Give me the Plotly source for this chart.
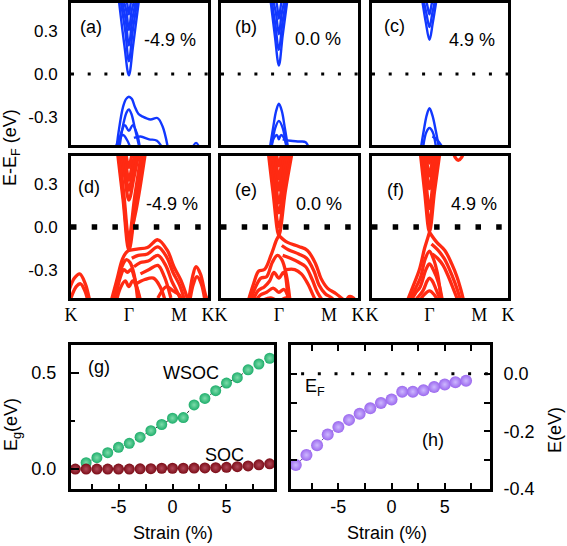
import plotly.graph_objects as go

W, H = 567, 546

# ---------------- data ----------------
K_PATH = [0.0, 1.333, 2.488, 3.155]
K_LABELS = ["K", "Γ", "M", "K"]
E_TICKS = [-0.3, 0.0, 0.3]
E_TICK_LABELS = ["-0.3", "0.0", "0.3"]
FERMI_K = [0.0, 3.155]
FERMI_E = [0.0, 0.0]

# (a) -4.9 %, without SOC
A_BANDS = [
    ([1.08, 1.23, 1.333, 1.43, 1.59], [0.58, 0.2, -0.01, 0.2, 0.58]),
    ([1.11, 1.25, 1.333, 1.42, 1.56], [0.58, 0.3, 0.09, 0.3, 0.58]),
    ([1.13, 1.26, 1.333, 1.41, 1.54], [0.58, 0.38, 0.2, 0.38, 0.58]),
    ([1.15, 1.27, 1.333, 1.40, 1.52], [0.58, 0.45, 0.31, 0.45, 0.58]),
    ([1.17, 1.28, 1.333, 1.39, 1.50], [0.6, 0.52, 0.42, 0.52, 0.6]),
    ([1.02, 1.1, 1.2, 1.27, 1.333, 1.4, 1.47, 1.55, 1.65, 1.83, 1.99, 2.11, 2.25],
     [-0.6, -0.4, -0.23, -0.175, -0.16, -0.175, -0.23, -0.28, -0.3, -0.32, -0.31, -0.37, -0.55]),
    ([1.1, 1.2, 1.28, 1.333, 1.39, 1.47, 1.6], [-0.55, -0.36, -0.27, -0.25, -0.28, -0.38, -0.55]),
    ([1.05, 1.15, 1.24, 1.333, 1.42, 1.52, 1.6], [-0.55, -0.42, -0.36, -0.40, -0.36, -0.42, -0.55]),
    ([1.45, 1.6, 1.8, 1.98, 2.15], [-0.45, -0.44, -0.46, -0.47, -0.55]),
    ([1.0, 1.12, 1.2, 1.3, 1.4], [-0.55, -0.45, -0.43, -0.47, -0.55]),
    ([2.75, 2.88, 3.0], [-0.55, -0.485, -0.55]),
]
# (b) 0.0 %, without SOC
B_BANDS = [
    ([1.12, 1.24, 1.333, 1.42, 1.55], [0.57, 0.27, 0.06, 0.27, 0.57]),
    ([1.14, 1.25, 1.333, 1.41, 1.53], [0.57, 0.35, 0.17, 0.35, 0.57]),
    ([1.16, 1.265, 1.333, 1.40, 1.51], [0.57, 0.43, 0.28, 0.43, 0.57]),
    ([1.18, 1.28, 1.333, 1.39, 1.49], [0.58, 0.5, 0.39, 0.5, 0.58]),
    ([1.11, 1.2, 1.27, 1.333, 1.40, 1.47, 1.56], [-0.55, -0.38, -0.26, -0.21, -0.26, -0.38, -0.55]),
    ([1.15, 1.25, 1.333, 1.42, 1.52], [-0.55, -0.38, -0.33, -0.38, -0.55]),
    ([1.12, 1.22, 1.29, 1.333, 1.38, 1.45, 1.55], [-0.55, -0.45, -0.43, -0.46, -0.43, -0.45, -0.55]),
    ([1.42, 1.6, 1.8, 1.95, 2.05], [-0.46, -0.47, -0.475, -0.48, -0.55]),
]
# (c) 4.9 %, without SOC
C_BANDS = [
    ([1.14, 1.25, 1.333, 1.41, 1.52], [0.57, 0.36, 0.24, 0.36, 0.57]),
    ([1.16, 1.26, 1.333, 1.40, 1.50], [0.57, 0.43, 0.33, 0.43, 0.57]),
    ([1.18, 1.27, 1.333, 1.39, 1.49], [0.58, 0.5, 0.42, 0.5, 0.58]),
    ([1.12, 1.2, 1.27, 1.333, 1.40, 1.48, 1.57], [-0.55, -0.4, -0.29, -0.24, -0.29, -0.4, -0.55]),
    ([1.17, 1.26, 1.333, 1.41, 1.5], [-0.55, -0.41, -0.38, -0.41, -0.55]),
    ([1.4, 1.5, 1.6, 1.7], [-0.44, -0.46, -0.5, -0.56]),
]
# (d) -4.9 %, with SOC
D_BANDS = [
    ([1.05, 1.2, 1.333, 1.5, 1.71], [0.58, 0.19, -0.165, 0.19, 0.58]),
    ([1.07, 1.21, 1.333, 1.49, 1.68], [0.58, 0.2, -0.13, 0.2, 0.58]),
    ([1.09, 1.22, 1.333, 1.47, 1.65], [0.58, 0.22, -0.08, 0.22, 0.58]),
    ([1.12, 1.24, 1.333, 1.45, 1.6], [0.58, 0.35, 0.19, 0.35, 0.58]),
    ([1.14, 1.25, 1.333, 1.43, 1.58], [0.58, 0.4, 0.26, 0.4, 0.58]),
    ([1.16, 1.26, 1.333, 1.42, 1.56], [0.58, 0.45, 0.33, 0.45, 0.58]),
    ([1.18, 1.27, 1.333, 1.40, 1.54], [0.6, 0.5, 0.42, 0.5, 0.6]),
    ([1.333, 1.5, 1.74], [-0.1, 0.12, 0.58]),
    ([1.333, 1.52, 1.76, 2.0, 2.22, 2.37, 2.53, 2.7], [-0.165, -0.155, -0.145, -0.09, -0.165, -0.28, -0.375, -0.52]),
    ([1.4, 1.55, 1.76, 2.0, 2.2, 2.35, 2.5, 2.65], [-0.22, -0.2, -0.19, -0.14, -0.21, -0.32, -0.41, -0.55]),
    ([1.45, 1.6, 1.78, 2.0, 2.18, 2.32, 2.45, 2.6], [-0.28, -0.25, -0.24, -0.2, -0.27, -0.38, -0.46, -0.56]),
    ([0.9, 1.05, 1.18, 1.27, 1.333], [-0.55, -0.38, -0.23, -0.18, -0.165]),
    ([0.95, 1.1, 1.2, 1.28, 1.36, 1.45, 1.55], [-0.55, -0.35, -0.26, -0.23, -0.25, -0.33, -0.55]),
    ([1.0, 1.12, 1.22, 1.3, 1.38, 1.48, 1.6], [-0.55, -0.37, -0.3, -0.32, -0.3, -0.38, -0.55]),
    ([1.02, 1.15, 1.25, 1.333, 1.42, 1.52, 1.62], [-0.55, -0.42, -0.38, -0.42, -0.38, -0.43, -0.55]),
    ([1.6, 1.8, 2.0, 2.15, 2.3], [-0.33, -0.3, -0.27, -0.35, -0.5]),
    ([1.5, 1.7, 1.9, 2.05, 2.2], [-0.4, -0.37, -0.36, -0.42, -0.55]),
    ([-0.05, 0.08, 0.2, 0.33, 0.45], [-0.45, -0.36, -0.33, -0.4, -0.55]),
    ([0.0, 0.12, 0.22, 0.32, 0.42], [-0.5, -0.42, -0.4, -0.45, -0.56]),
    ([2.7, 2.8, 2.88, 2.98, 3.1, 3.2], [-0.55, -0.35, -0.28, -0.33, -0.48, -0.55]),
    ([2.72, 2.82, 2.9, 3.0, 3.1], [-0.55, -0.4, -0.35, -0.4, -0.55]),
    ([2.0, 2.2, 2.35, 2.5, 2.6], [-0.5, -0.42, -0.45, -0.48, -0.55]),
]
# (e) 0.0 %, with SOC
E_BANDS = [
    ([1.07, 1.2, 1.333, 1.48, 1.67], [0.58, 0.24, -0.06, 0.25, 0.58]),
    ([1.09, 1.21, 1.333, 1.47, 1.64], [0.58, 0.27, 0.0, 0.27, 0.58]),
    ([1.11, 1.22, 1.333, 1.45, 1.61], [0.58, 0.32, 0.1, 0.32, 0.58]),
    ([1.13, 1.24, 1.333, 1.44, 1.58], [0.58, 0.37, 0.17, 0.37, 0.58]),
    ([1.15, 1.25, 1.333, 1.42, 1.56], [0.58, 0.42, 0.26, 0.42, 0.58]),
    ([1.17, 1.26, 1.333, 1.41, 1.54], [0.58, 0.47, 0.34, 0.47, 0.58]),
    ([1.19, 1.27, 1.333, 1.4, 1.52], [0.6, 0.52, 0.43, 0.52, 0.6]),
    ([1.333, 1.52, 1.79, 1.99, 2.18, 2.30, 2.45, 2.65, 2.85], [-0.06, -0.107, -0.137, -0.165, -0.26, -0.36, -0.43, -0.47, -0.52]),
    ([1.4, 1.55, 1.79, 1.97, 2.14, 2.26, 2.4, 2.55, 2.7], [-0.13, -0.16, -0.19, -0.22, -0.31, -0.41, -0.47, -0.5, -0.56]),
    ([1.42, 1.6, 1.8, 1.95, 2.1, 2.22, 2.35, 2.5], [-0.2, -0.22, -0.25, -0.28, -0.37, -0.46, -0.52, -0.56]),
    ([1.5, 1.7, 1.85, 2.0, 2.12, 2.25], [-0.3, -0.3, -0.33, -0.4, -0.48, -0.56]),
    ([0.6, 0.75, 0.87, 1.0, 1.15, 1.28, 1.333], [-0.55, -0.4, -0.31, -0.3, -0.2, -0.09, -0.06]),
    ([0.65, 0.8, 0.92, 1.05, 1.18, 1.3, 1.4, 1.5, 1.6], [-0.55, -0.42, -0.36, -0.35, -0.25, -0.2, -0.23, -0.33, -0.55]),
    ([0.7, 0.85, 1.0, 1.12, 1.22, 1.333, 1.44, 1.55], [-0.55, -0.45, -0.42, -0.38, -0.32, -0.36, -0.32, -0.55]),
    ([0.75, 0.9, 1.05, 1.2, 1.333, 1.45, 1.6], [-0.55, -0.48, -0.46, -0.43, -0.46, -0.44, -0.55]),
    ([0.8, 1.0, 1.15, 1.333, 1.5, 1.65], [-0.55, -0.51, -0.5, -0.52, -0.5, -0.56]),
    ([2.85, 2.95, 3.05, 3.15], [-0.55, -0.49, -0.5, -0.56]),
]
# (f) 4.9 %, with SOC
F_BANDS = [
    ([1.1, 1.22, 1.333, 1.45, 1.6], [0.58, 0.25, -0.035, 0.25, 0.58]),
    ([1.12, 1.23, 1.333, 1.44, 1.58], [0.58, 0.29, 0.03, 0.29, 0.58]),
    ([1.14, 1.24, 1.333, 1.43, 1.56], [0.58, 0.35, 0.13, 0.35, 0.58]),
    ([1.16, 1.25, 1.333, 1.42, 1.54], [0.58, 0.43, 0.27, 0.43, 0.58]),
    ([1.18, 1.26, 1.333, 1.41, 1.52], [0.58, 0.48, 0.36, 0.48, 0.58]),
    ([1.2, 1.28, 1.333, 1.39, 1.5], [0.6, 0.53, 0.45, 0.53, 0.6]),
    ([1.85, 1.93, 2.0, 2.08, 2.16], [0.58, 0.49, 0.47, 0.49, 0.58]),
    ([1.333, 1.5, 1.69, 1.85, 1.97, 2.06, 2.15], [-0.037, -0.107, -0.165, -0.26, -0.35, -0.44, -0.55]),
    ([1.38, 1.52, 1.67, 1.8, 1.92, 2.02, 2.1], [-0.12, -0.16, -0.22, -0.3, -0.39, -0.48, -0.56]),
    ([1.4, 1.52, 1.65, 1.76, 1.88, 1.97, 2.05], [-0.19, -0.22, -0.27, -0.34, -0.43, -0.5, -0.56]),
    ([0.78, 0.95, 1.1, 1.22, 1.3, 1.333], [-0.55, -0.42, -0.3, -0.15, -0.07, -0.037]),
    ([0.8, 0.98, 1.12, 1.24, 1.333, 1.42, 1.52, 1.62], [-0.55, -0.45, -0.36, -0.22, -0.17, -0.22, -0.33, -0.55]),
    ([0.85, 1.0, 1.12, 1.25, 1.333, 1.42, 1.55, 1.65], [-0.55, -0.47, -0.42, -0.3, -0.26, -0.3, -0.4, -0.55]),
    ([0.9, 1.05, 1.18, 1.28, 1.333, 1.4, 1.5, 1.65], [-0.55, -0.5, -0.45, -0.38, -0.36, -0.38, -0.45, -0.56]),
    ([0.95, 1.1, 1.2, 1.333, 1.45, 1.6], [-0.56, -0.52, -0.48, -0.45, -0.48, -0.56]),
]

# (g) band gap vs strain
STRAIN_WSOC = [-8, -7, -6, -5, -4, -3, -2, -1, 0, 1, 2, 3, 4, 5, 6, 7, 8, 9]
EG_WSOC = [0.033, 0.059, 0.085, 0.113, 0.134, 0.166, 0.200, 0.232, 0.265, 0.268,
           0.334, 0.368, 0.408, 0.448, 0.476, 0.517, 0.547, 0.577]
STRAIN_SOC = [-9, -8, -7, -6, -5, -4, -3, -2, -1, 0, 1, 2, 3, 4, 5, 6, 7, 8, 9]
EG_SOC = [0.0, 0.0, 0.0, 0.0, 0.0, 0.0, 0.001, 0.002, 0.004, 0.004, 0.004, 0.005,
          0.006, 0.007, 0.009, 0.012, 0.016, 0.022, 0.027]
# (h) Dirac point energy vs strain
STRAIN_H = [-9, -8, -7, -6, -5, -4, -3, -2, -1, 0, 1, 2, 3, 4, 5, 6, 7]
E_DIRAC = [-0.317, -0.282, -0.248, -0.211, -0.185, -0.160, -0.139, -0.120, -0.101,
           -0.089, -0.062, -0.062, -0.057, -0.046, -0.037, -0.029, -0.024]
EF_H_X = [-8.5, 9.3]
EF_H_Y = [0.0, 0.0]

STRAIN_TICKS = [-5, 0, 5]
STRAIN_TICK_LABELS = ["-5", "0", "5"]
EG_TICKS = [0.0, 0.5]
EG_TICK_LABELS = ["0.0", "0.5"]
EH_TICKS = [-0.4, -0.2, 0.0]
EH_TICK_LABELS = ["-0.4", "-0.2", "0.0"]

# ---------------- styling / layout ----------------
BLUE = "#1238ff"
RED = "#ff2a12"
GREEN = "#1fae6c"
DARKRED = "#7c0c17"
PURPLE = "#9b68ee"
SANS = "Arial, Liberation Sans, sans-serif"
SERIF = "Times New Roman, Liberation Serif, serif"

PANELS = {
    "a": (71, 208, 3, 145), "b": (221, 358, 3, 145), "c": (372, 508, 3, 145),
    "d": (71, 208, 156, 298), "e": (221, 358, 156, 298), "f": (372, 508, 156, 298),
    "g": (71, 274, 345, 489), "h": (291, 490, 345, 489),
}
NAMES = "abcdefgh"


def dom(p):
    x0, x1, y0, y1 = p
    return [x0 / W, x1 / W], [1 - y1 / H, 1 - y0 / H]


def refs(i):
    s = "" if i == 1 else str(i)
    return "x" + s, "y" + s, "xaxis" + s, "yaxis" + s


fig = go.Figure()
layout = {}
for i, n in enumerate(NAMES, start=1):
    xr, yr, xa, ya = refs(i)
    xd, yd = dom(PANELS[n])
    base = dict(showline=True, linecolor="black", linewidth=3, mirror=True,
                showgrid=False, zeroline=False, ticks="", ticklen=0, automargin=False,
                tickfont=dict(family=SANS, size=17, color="black"))
    layout[xa] = dict(domain=xd, anchor=yr, **base)
    layout[ya] = dict(domain=yd, anchor=xr, **base)
    if n in "abcdef":
        layout[xa].update(range=[0, 3.155], tickmode="array", tickvals=K_PATH,
                          ticktext=K_LABELS, showticklabels=(n in "def"),
                          tickfont=dict(family=SERIF, size=18, color="black"),
                          ticklabelstandoff=-2)
        layout[ya].update(range=[-0.5, 0.5], tickmode="array", tickvals=E_TICKS,
                          ticktext=E_TICK_LABELS, showticklabels=(n in "ad"),
                          ticklabelstandoff=7)

# band panels
band_sets = [A_BANDS, B_BANDS, C_BANDS, D_BANDS, E_BANDS, F_BANDS]
for i, bands in enumerate(band_sets, start=1):
    xr, yr, _, _ = refs(i)
    color = BLUE if i <= 3 else RED
    width = 2.4 if i <= 3 else 3.3
    for k, e in bands:
        fig.add_trace(go.Scatter(x=k, y=e, mode="lines", xaxis=xr, yaxis=yr,
                                 line=dict(color=color, width=width, shape="spline",
                                           smoothing=1.0),
                                 showlegend=False, hoverinfo="skip"))
    # Fermi level
    if i <= 3:
        fl = dict(color="black", width=3, dash="3px,13.7px")
    else:
        fl = dict(color="black", width=5.5, dash="5.5px,15.2px")
    fig.add_trace(go.Scatter(x=FERMI_K, y=FERMI_E, mode="lines", xaxis=xr, yaxis=yr,
                             line=fl, showlegend=False, hoverinfo="skip"))

# (g)
fig.add_trace(go.Scatter(x=STRAIN_WSOC, y=EG_WSOC, mode="lines+markers", xaxis="x7", yaxis="y7",
                         line=dict(color="#333333", width=1, dash="dot"),
                         marker=dict(size=11, color=GREEN,
                                     gradient=dict(type="radial", color="#7ddcaa")),
                         showlegend=False))
fig.add_trace(go.Scatter(x=STRAIN_SOC, y=EG_SOC, mode="lines+markers", xaxis="x7", yaxis="y7",
                         line=dict(color="#333333", width=1, dash="dot"),
                         marker=dict(size=11, color=DARKRED,
                                     gradient=dict(type="radial", color="#b04858")),
                         showlegend=False))
# (h)
fig.add_trace(go.Scatter(x=EF_H_X, y=EF_H_Y, mode="lines", xaxis="x8", yaxis="y8",
                         line=dict(color="black", width=3, dash="3px,13.7px"),
                         showlegend=False, hoverinfo="skip"))
fig.add_trace(go.Scatter(x=STRAIN_H, y=E_DIRAC, mode="lines+markers", xaxis="x8", yaxis="y8",
                         line=dict(color="#6040a0", width=1, dash="dot"),
                         marker=dict(size=12, color=PURPLE,
                                     gradient=dict(type="radial", color="#cdb8ff")),
                         showlegend=False))

tick_common = dict(ticks="inside", tickcolor="black", tickwidth=2,
                   tickfont=dict(family=SANS, size=18, color="black"))
layout["xaxis7"].update(range=[-9.4, 9.4], tickmode="array", tickvals=STRAIN_TICKS,
                        ticktext=STRAIN_TICK_LABELS, ticklen=5,
                        minor=dict(dtick=2.5, tick0=0, ticks="inside", ticklen=5,
                                   tickwidth=2, tickcolor="black"),
                        ticklabelstandoff=-1, **tick_common)
layout["yaxis7"].update(range=[-0.104, 0.646], tickmode="array", tickvals=EG_TICKS,
                        ticktext=EG_TICK_LABELS, ticklen=8,
                        minor=dict(dtick=0.25, tick0=0, ticks="inside", ticklen=4,
                                   tickwidth=2, tickcolor="black"),
                        ticklabelstandoff=8, **tick_common)
layout["xaxis8"].update(range=[-9.45, 9.25], tickmode="array", tickvals=STRAIN_TICKS,
                        ticktext=STRAIN_TICK_LABELS, ticklen=6, mirror="allticks",
                        minor=dict(dtick=2.5, tick0=0, ticks="inside", ticklen=6,
                                   tickwidth=2, tickcolor="black"),
                        ticklabelstandoff=-1, **tick_common)
layout["yaxis8"].update(range=[-0.4, 0.1], tickmode="array", tickvals=EH_TICKS,
                        ticktext=EH_TICK_LABELS, ticklen=6, side="right",
                        mirror="allticks",
                        minor=dict(dtick=0.1, tick0=0, ticks="inside", ticklen=6,
                                   tickwidth=2, tickcolor="black"),
                        ticklabelstandoff=7, **tick_common)


def ann(text, px, py, size=18, angle=0, family=SANS):
    return dict(text=text, x=px / W, y=1 - py / H, xref="paper", yref="paper",
                showarrow=False, xanchor="center", yanchor="middle", textangle=angle,
                font=dict(family=family, size=size, color="black"))


annotations = [
    ann("(a)", 91, 27), ann("-4.9 %", 170, 40),
    ann("(b)", 246, 27), ann("0.0 %", 318, 39),
    ann("(c)", 394, 26), ann("4.9 %", 472, 40),
    ann("(d)", 89, 187), ann("-4.9 %", 172, 204),
    ann("(e)", 246, 190), ann("0.0 %", 319, 204),
    ann("(f)", 395, 190), ann("4.9 %", 474, 204),
    ann("E-E<sub>F</sub> (eV)", 12, 148, angle=-90),
    ann("(g)", 99, 367), ann("WSOC", 191, 373), ann("SOC", 224, 455),
    ann("E<sub>g</sub>(eV)", 12, 425, angle=-90),
    ann("Strain (%)", 173, 533), ann("Strain (%)", 387, 533),
    ann("E<sub>F</sub>", 315, 387), ann("(h)", 433, 440),
    ann("E(eV)", 555, 430, angle=-90),
]

fig.update_layout(width=W, height=H, margin=dict(l=0, r=0, t=0, b=0),
                  paper_bgcolor="white", plot_bgcolor="white", showlegend=False,
                  annotations=annotations, **layout)

fig.write_html("out.html", config={"displayModeBar": False},
               post_script="document.body.style.margin='0';document.body.style.overflow='hidden';")
